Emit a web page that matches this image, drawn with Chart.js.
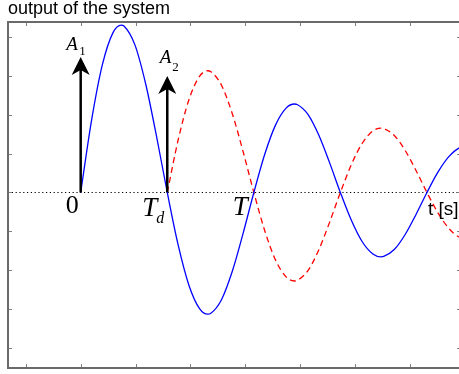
<!DOCTYPE html>
<html>
<head>
<meta charset="utf-8">
<script src="https://cdn.jsdelivr.net/npm/chart.js@4.4.1/dist/chart.umd.min.js"></script>
<style>
  html, body { margin: 0; padding: 0; background: #fff; overflow: hidden; }
  canvas { display: block; }
</style>
</head>
<body>
<canvas id="grafico" width="470" height="374"></canvas>
<script>
// --- DADOS ---
const tempo = [0, 0.197, 0.394, 0.591, 0.738, 0.788, 0.986, 1.183, 1.380, 1.577,
  1.774, 1.971, 2.168, 2.315, 2.365, 2.562, 2.760, 2.957, 3.154,
  3.351, 3.548, 3.745, 3.892, 3.942, 4.139, 4.336, 4.533, 4.730,
  4.928, 5.125, 5.322, 5.469, 5.519, 5.716, 5.913, 6.110, 6.307,
  6.504, 6.701, 6.898, 7.096];
const saidaA1 = [0, 1.845, 3.275, 4.111, 4.299, 4.276, 3.796, 2.792, 1.452, 0,
  -1.341, -2.380, -2.989, -3.125, -3.108, -2.760, -2.029, -1.055, 0,
  0.975, 1.730, 2.172, 2.272, 2.259, 2.006, 1.475, 0.767, 0,
  -0.708, -1.258, -1.579, -1.652, -1.642, -1.458, -1.072, -0.558, 0,
  0.515, 0.914, 1.147, 1.194];
// resposta ao segundo impulso (começa em Td)
const tempoA2 = tempo.slice(9);
const saidaA2 = [0,
  1.341, 2.380, 2.989, 3.125, 3.108, 2.760, 2.029, 1.055, 0,
  -0.975, -1.730, -2.172, -2.272, -2.259, -2.006, -1.475, -0.767, 0,
  0.708, 1.258, 1.579, 1.652, 1.642, 1.458, 1.072, 0.558, 0,
  -0.515, -0.914, -1.147, -1.194];
const impulsosT = [0, 1.577];      // 0 e Td
const impulsosA = [3.48, 2.99];    // alturas das setas A1, A2
const ticksX = [-1, 0, 1, 2, 3, 4, 5, 6, 7];
const ticksY = [-4, -3, -2, -1, 0, 1, 2, 3, 4];
const limX = [-1.324, 6.927];
const limY = [-4.506, 4.377];

const pares = (xs, ys) => xs.map((t, i) => ({ x: t, y: ys[i] }));
const serifIt = (s) => `italic ${s}px "Liberation Serif", "DejaVu Serif", serif`;
const serif = (s) => `${s}px "Liberation Serif", "DejaVu Serif", serif`;

// --- moldura, ticks internos, setas e rótulos ---
const moldura = {
  id: 'moldura',
  afterDatasetsDraw(chart) {
    const { ctx, chartArea: a, scales: { x, y } } = chart;
    ctx.save();

    // setas dos impulsos
    impulsosT.forEach((t, i) => {
      const px = x.getPixelForValue(t);
      const base = y.getPixelForValue(0);
      const ponta = y.getPixelForValue(impulsosA[i]);
      ctx.strokeStyle = '#000';
      ctx.lineWidth = 2.5;
      ctx.beginPath();
      ctx.moveTo(px, base);
      ctx.lineTo(px, ponta + 12);
      ctx.stroke();
      ctx.fillStyle = '#000';
      ctx.beginPath();
      ctx.moveTo(px, ponta);
      ctx.lineTo(px + 9, ponta + 18);
      ctx.lineTo(px, ponta + 13);
      ctx.lineTo(px - 9, ponta + 18);
      ctx.closePath();
      ctx.fill();
    });

    // rótulos
    const x0 = x.getPixelForValue(impulsosT[0]);
    const xd = x.getPixelForValue(impulsosT[1]);
    const xT = x.getPixelForValue(2 * impulsosT[1]);
    const topo1 = y.getPixelForValue(impulsosA[0]);
    const topo2 = y.getPixelForValue(impulsosA[1]);
    ctx.fillStyle = '#000';
    ctx.textBaseline = 'alphabetic';
    ctx.font = serifIt(19); ctx.fillText('A', x0 - 14.5, topo1 - 7);
    ctx.font = serif(13);   ctx.fillText('1', x0 - 1.5, topo1 - 2);
    ctx.font = serifIt(19); ctx.fillText('A', xd - 7.5, topo2 - 13);
    ctx.font = serif(13);   ctx.fillText('2', xd + 5, topo2 - 5);
    ctx.font = serif(26);   ctx.fillText('0', x0 - 15, 213);
    ctx.font = serifIt(27); ctx.fillText('T', xd - 25, 216);
    ctx.font = serifIt(16); ctx.fillText('d', xd - 11, 223);
    ctx.font = serifIt(27); ctx.fillText('T', xT - 21, 215);
    ctx.font = '19px "Liberation Sans", Arial, sans-serif';
    ctx.fillText('t [s]', a.right - 33, 215);

    // ticks para dentro
    ctx.strokeStyle = '#808080';
    ctx.lineWidth = 1;
    ticksX.forEach(v => {
      const px = Math.round(x.getPixelForValue(v)) + 0.5;
      ctx.beginPath();
      ctx.moveTo(px, a.bottom); ctx.lineTo(px, a.bottom - 4);
      ctx.moveTo(px, a.top); ctx.lineTo(px, a.top + 4);
      ctx.stroke();
    });
    ticksY.forEach(v => {
      const py = Math.round(y.getPixelForValue(v)) + 0.5;
      ctx.beginPath();
      ctx.moveTo(a.left, py); ctx.lineTo(a.left + 4, py);
      ctx.moveTo(a.right, py); ctx.lineTo(a.right - 4, py);
      ctx.stroke();
    });

    // caixa
    ctx.strokeStyle = '#6a6a6a';
    ctx.lineWidth = 2;
    ctx.strokeRect(a.left, a.top, a.right - a.left, a.bottom - a.top);
    ctx.restore();
  }
};

new Chart(document.getElementById('grafico'), {
  type: 'line',
  data: {
    datasets: [
      { data: pares(tempo, saidaA1), borderColor: '#0000ff', borderWidth: 1.3, cubicInterpolationMode: 'monotone', pointRadius: 0, fill: false },
      { data: pares(tempoA2, saidaA2), borderColor: '#ff0000', borderWidth: 1.3, borderDash: [6, 4], cubicInterpolationMode: 'monotone', pointRadius: 0, fill: false },
      { data: [{ x: limX[0], y: 0 }, { x: limX[1], y: 0 }], borderColor: '#000', borderWidth: 1.2, borderDash: [1.2, 2.6], pointRadius: 0, fill: false }
    ]
  },
  options: {
    responsive: false,
    animation: false,
    events: [],
    layout: { padding: { left: 8, right: 9, top: 0, bottom: 6 } },
    scales: {
      x: { type: 'linear', min: limX[0], max: limX[1], display: false },
      y: { type: 'linear', min: limY[0], max: limY[1], display: false }
    },
    plugins: {
      legend: { display: false },
      tooltip: { enabled: false },
      title: {
        display: true,
        text: 'output of the system',
        align: 'start',
        color: '#000',
        font: { family: '"Liberation Sans", Arial, sans-serif', size: 18, weight: 'normal', lineHeight: 1 },
        padding: { top: 0, bottom: 4 }
      }
    }
  },
  plugins: [moldura]
});
</script>
</body>
</html>
